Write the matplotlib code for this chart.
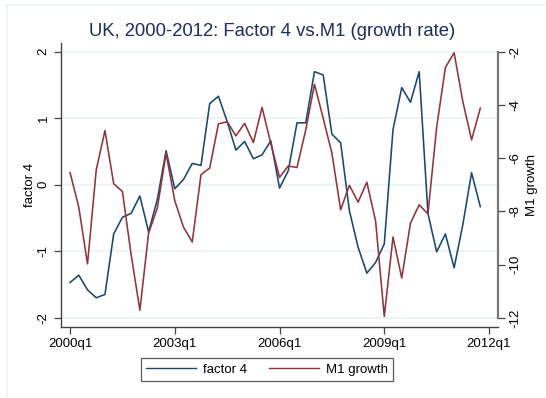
import numpy as np
import matplotlib
matplotlib.use('Agg')
import matplotlib.pyplot as plt
from matplotlib.lines import Line2D

plt.rcParams['font.family'] = ['Liberation Sans', 'DejaVu Sans']

# quarterly data, 2000q1 .. 2011q4
quarters = np.arange(48)
xtick_pos = [0, 12, 24, 36, 48]
xtick_labels = ['2000q1', '2003q1', '2006q1', '2009q1', '2012q1']

factor4 = [-1.47, -1.36, -1.58, -1.70, -1.65, -0.74, -0.49, -0.43, -0.17, -0.71,
           -0.22, 0.51, -0.06, 0.08, 0.32, 0.29, 1.22, 1.33, 0.95, 0.52,
           0.65, 0.39, 0.45, 0.66, -0.05, 0.21, 0.93, 0.93, 1.70, 1.65,
           0.76, 0.63, -0.39, -0.94, -1.33, -1.17, -0.89, 0.83, 1.46, 1.24,
           1.70, -0.43, -1.01, -0.74, -1.25, -0.60, 0.18, -0.33]

m1_growth = [-6.54, -7.84, -9.97, -6.44, -4.96, -6.96, -7.25, -9.63, -11.71, -8.81,
             -7.87, -5.81, -7.60, -8.59, -9.15, -6.62, -6.37, -4.71, -4.63, -5.16,
             -4.69, -5.41, -4.09, -5.45, -6.72, -6.29, -6.35, -4.94, -3.22, -4.50,
             -5.81, -7.94, -7.02, -7.65, -6.90, -8.35, -11.94, -8.96, -10.50, -8.44,
             -7.75, -8.09, -4.84, -2.59, -2.04, -3.87, -5.31, -4.12]

left_ticks = [-2, -1, 0, 1, 2]
right_ticks = [-12, -10, -8, -6, -4, -2]

navy = '#1a476f'
maroon = '#90353b'
grid_col = '#eaf2f3'
axis_col = '#444444'

fig = plt.figure(figsize=(5.46, 3.98), dpi=100)
fig.patch.set_facecolor('white')

# faint outer frame of the graph region
fig.add_artist(Line2D([7 / 546, 7 / 546], [0, 1 - 4.5 / 398], color=grid_col, lw=1.2))
fig.add_artist(Line2D([7 / 546, 1], [1 - 4.5 / 398, 1 - 4.5 / 398], color=grid_col, lw=1.2))

ax = fig.add_axes([0.1112, 0.1791, 0.8014, 0.7136])
ax.set_xlim(-1.07, 49.06)
ax.set_ylim(-2.135, 2.135)

for t in left_ticks:
    ax.axhline(t, color=grid_col, lw=1.2, zorder=0)

ax.plot(quarters, factor4, color=navy, lw=1.15, zorder=3)

ax2 = ax.twinx()
ax2.set_ylim(-12.33, -1.66)
ax2.plot(quarters, m1_growth, color=maroon, lw=1.15, zorder=3)

ax.set_xticks(xtick_pos)
ax.set_xticklabels(xtick_labels, fontsize=9.5)
ax.set_yticks(left_ticks)
ax.set_yticklabels([str(t) for t in left_ticks], fontsize=9.5, rotation=90, va='center')
ax2.set_yticks(right_ticks)
ax2.set_yticklabels([str(t) for t in right_ticks], fontsize=9.5, rotation=90, va='center')

ax.tick_params(axis='both', direction='out', length=5, width=0.9, color=axis_col, pad=3)
ax2.tick_params(axis='y', direction='out', length=5, width=0.9, color=axis_col, pad=3)

for a in (ax, ax2):
    a.spines['top'].set_visible(False)
ax.spines['right'].set_visible(False)
ax.spines['left'].set_color(axis_col)
ax.spines['bottom'].set_color(axis_col)
ax.spines['left'].set_linewidth(1.0)
ax.spines['bottom'].set_linewidth(1.0)
ax2.spines['left'].set_visible(False)
ax2.spines['bottom'].set_visible(False)
ax2.spines['right'].set_color('#777777')
ax2.spines['right'].set_linewidth(1.6)
ax2.spines['right'].set_bounds(-12, -2)

ax.set_ylabel('factor 4', fontsize=9.5, labelpad=1)
ax2.set_ylabel('M1 growth', fontsize=9.5, rotation=90, labelpad=3)

fig.text(0.498, 0.92, 'UK, 2000-2012: Factor 4 vs.M1 (growth rate)',
         ha='center', va='center', fontsize=13.3, color='#1e2d5a')

handles = [Line2D([], [], color=navy, lw=1.0), Line2D([], [], color=maroon, lw=1.0)]
leg = fig.legend(handles, ['factor 4', 'M1 growth'], loc='center',
                 bbox_to_anchor=(267 / 546, 1 - 369.5 / 398), ncol=2,
                 fontsize=9.5, frameon=True, fancybox=False, handlelength=3.8,
                 columnspacing=1.6, handletextpad=0.55, borderpad=0.4,
                 borderaxespad=0)
leg.get_frame().set_edgecolor('#333333')
leg.get_frame().set_linewidth(0.9)

fig.savefig('out.png', dpi=100)
